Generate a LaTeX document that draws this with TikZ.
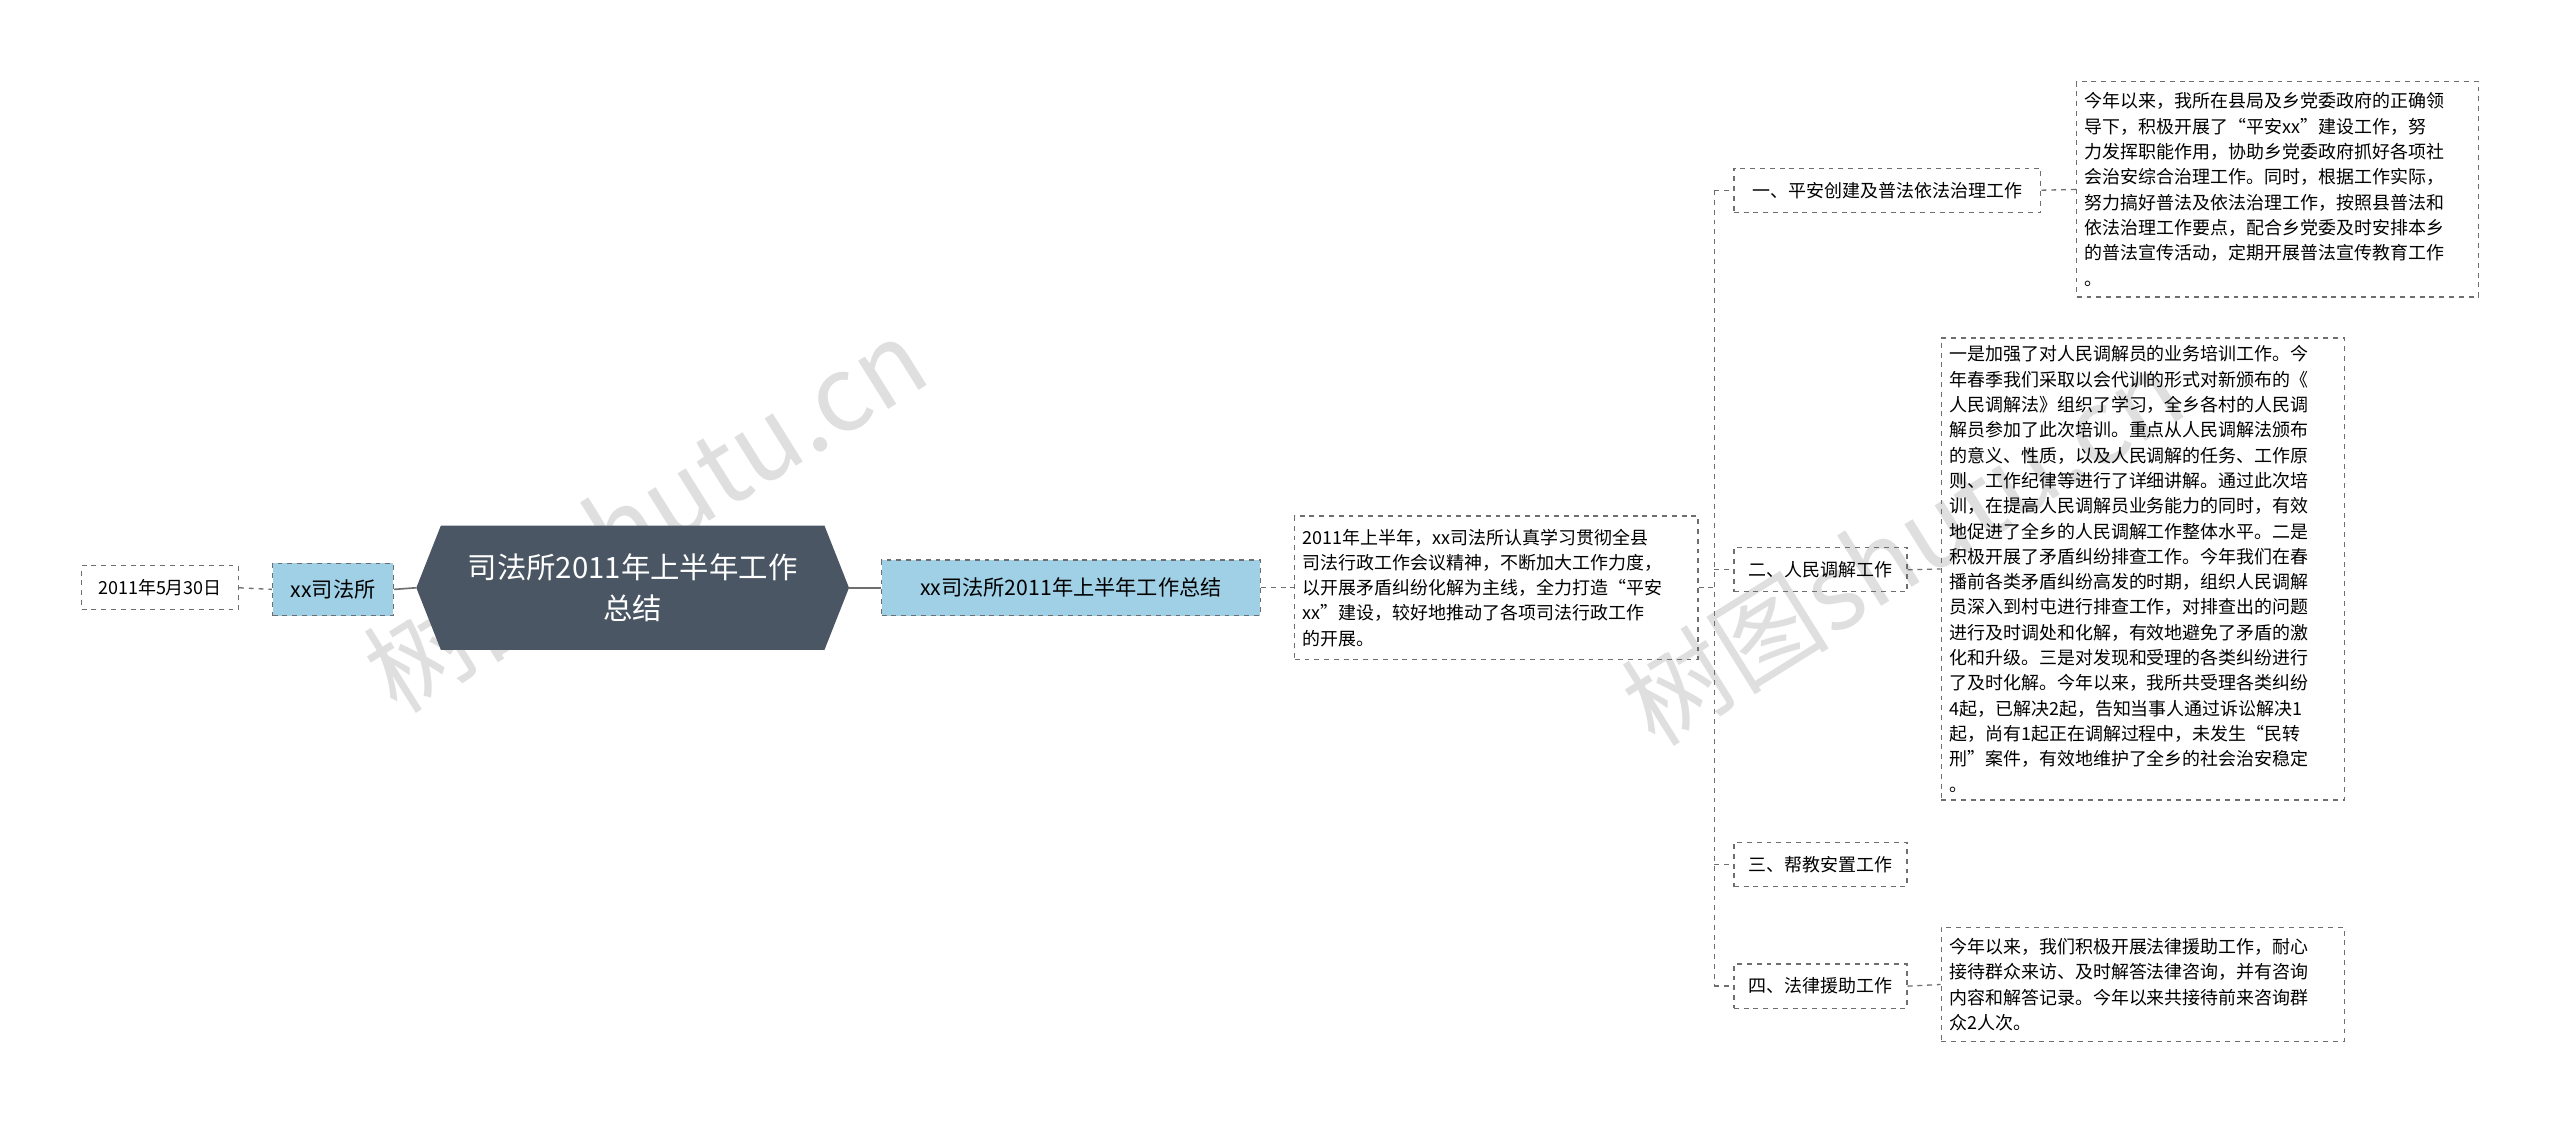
\documentclass[tikz,border=0pt]{standalone}
\usepackage{fontspec}
\setmainfont{Noto Sans CJK SC}
\definecolor{bluef}{RGB}{160,208,230}
\definecolor{darkc}{RGB}{74,86,99}
\definecolor{linec}{RGB}{110,110,110}
\begin{document}
\begin{tikzpicture}[x=1pt,y=-1pt,
  box/.style={draw=linec,dashed,line width=0.8pt,inner sep=0pt,font=\fontsize{11}{15.5}\selectfont,text=black},
  txt/.style={box,align=left},
  blue/.style={box,fill=bluef,font=\fontsize{13}{16}\selectfont},
  conn/.style={draw=linec,dashed,line width=0.8pt},
  solidc/.style={draw=linec,line width=1pt}]
\useasboundingbox (0,0) rectangle (1568,690);
\fill[white] (0,0) rectangle (1568,690);
% watermarks
\node[rotate=32,text=gray!25,font=\fontsize{64}{70}\selectfont] at (395,315) {树图shutu.cn};
\node[rotate=32,text=gray!25,font=\fontsize{64}{70}\selectfont] at (1165,335) {树图shutu.cn};
% nodes
\node[box,minimum width=96,minimum height=27] (date) at (98,360) {2011年5月30日};
\node[blue,minimum width=74,minimum height=32] (xx) at (204,361) {xx司法所};
\fill[darkc] (255,360) -- (270,322) -- (505,322) -- (520,360) -- (505,398) -- (270,398) -- cycle;
\node[align=center,text=white,font=\fontsize{18}{25}\selectfont,minimum width=265,minimum height=76] (root) at (387.5,360) {司法所2011年上半年工作\\总结};
\node[blue,minimum width=232,minimum height=34] (sum) at (656,360) {xx司法所2011年上半年工作总结};
\node[txt,minimum width=247,minimum height=88,text width=237] (main) at (916.5,360) {2011年上半年，xx司法所认真学习贯彻全县\\司法行政工作会议精神，不断加大工作力度，\\以开展矛盾纠纷化解为主线，全力打造“平安\\xx”建设，较好地推动了各项司法行政工作\\的开展。};
\node[box,minimum width=188,minimum height=27] (b1) at (1156,116.5) {一、平安创建及普法依法治理工作};
\node[box,minimum width=106,minimum height=27] (b2) at (1115,349) {二、人民调解工作};
\node[box,minimum width=106,minimum height=27] (b3) at (1115,529.5) {三、帮教安置工作};
\node[box,minimum width=106,minimum height=27] (b4) at (1115,604) {四、法律援助工作};
\node[txt,minimum width=246,minimum height=132,text width=236] (t1) at (1395,116) {今年以来，我所在县局及乡党委政府的正确领\\导下，积极开展了“平安xx”建设工作，努\\力发挥职能作用，协助乡党委政府抓好各项社\\会治安综合治理工作。同时，根据工作实际，\\努力搞好普法及依法治理工作，按照县普法和\\依法治理工作要点，配合乡党委及时安排本乡\\的普法宣传活动，定期开展普法宣传教育工作\\。};
\node[txt,minimum width=247,minimum height=283,text width=237] (t2) at (1312.5,348.5) {一是加强了对人民调解员的业务培训工作。今\\年春季我们采取以会代训的形式对新颁布的《\\人民调解法》组织了学习，全乡各村的人民调\\解员参加了此次培训。重点从人民调解法颁布\\的意义、性质，以及人民调解的任务、工作原\\则、工作纪律等进行了详细讲解。通过此次培\\训，在提高人民调解员业务能力的同时，有效\\地促进了全乡的人民调解工作整体水平。二是\\积极开展了矛盾纠纷排查工作。今年我们在春\\播前各类矛盾纠纷高发的时期，组织人民调解\\员深入到村屯进行排查工作，对排查出的问题\\进行及时调处和化解，有效地避免了矛盾的激\\化和升级。三是对发现和受理的各类纠纷进行\\了及时化解。今年以来，我所共受理各类纠纷\\4起，已解决2起，告知当事人通过诉讼解决1\\起，尚有1起正在调解过程中，未发生“民转\\刑”案件，有效地维护了全乡的社会治安稳定\\。};
\node[txt,minimum width=247,minimum height=70,text width=237] (t4) at (1312.5,603) {今年以来，我们积极开展法律援助工作，耐心\\接待群众来访、及时解答法律咨询，并有咨询\\内容和解答记录。今年以来共接待前来咨询群\\众2人次。};
% connectors
\draw[conn] (date.east) -- (xx.west);
\draw[solidc] (xx.east) -- (255,360);
\draw[solidc] (520,360) -- (sum.west);
\draw[conn] (sum.east) -- (main.west);
\coordinate (sp) at (1050,360);
\draw[conn] (main.east) -- (sp);
\draw[conn] (1050,116.5) -- (1050,604);
\draw[conn] (1050,116.5) -- (b1.west);
\draw[conn] (1050,349) -- (b2.west);
\draw[conn] (1050,529.5) -- (b3.west);
\draw[conn] (1050,604) -- (b4.west);
\draw[conn] (b1.east) -- (t1.west);
\draw[conn] (b2.east) -- (t2.west);
\draw[conn] (b4.east) -- (t4.west);
\end{tikzpicture}
\end{document}
